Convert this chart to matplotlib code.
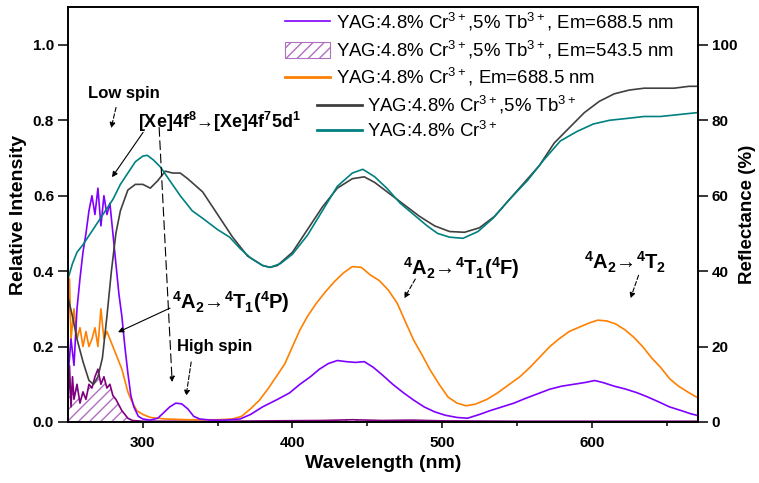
import matplotlib
matplotlib.use('Agg')
import matplotlib.pyplot as plt
from matplotlib.patches import Patch
from matplotlib.lines import Line2D

plt.rcParams['font.family'] = ['Liberation Sans', 'DejaVu Sans']
plt.rcParams['mathtext.fontset'] = 'custom'
plt.rcParams['mathtext.rm'] = 'Liberation Sans'
plt.rcParams['mathtext.it'] = 'Liberation Sans:italic'
plt.rcParams['mathtext.bf'] = 'Liberation Sans:bold'

# excitation, YAG:Cr,Tb  Em=688.5 nm
wl_crtb = [250, 252, 254, 256, 258, 260, 262, 264, 266, 268, 270, 272, 274, 276, 278, 280, 282, 284, 286,
           288, 290, 292, 294, 297, 300, 305, 310, 314, 318, 322, 326, 330, 334, 338, 345, 355, 365, 372,
           380, 390, 398, 405, 412, 418, 424, 430, 436, 442, 448, 454, 460, 467, 474, 481, 488, 495, 502,
           510, 517, 525, 532, 540, 548, 556, 564, 572, 580, 588, 596, 602, 608, 615, 622, 630, 637, 645,
           652, 660, 666, 670]
ex_crtb = [0.12, 0.22, 0.15, 0.30, 0.38, 0.45, 0.50, 0.56, 0.60, 0.55, 0.62, 0.52, 0.60, 0.55, 0.58, 0.50,
           0.42, 0.34, 0.28, 0.20, 0.13, 0.07, 0.04, 0.015, 0.008, 0.005, 0.01, 0.025, 0.04, 0.05, 0.048,
           0.035, 0.015, 0.008, 0.005, 0.005, 0.008, 0.02, 0.04, 0.06, 0.077, 0.10, 0.12, 0.14, 0.155,
           0.163, 0.16, 0.158, 0.16, 0.145, 0.125, 0.10, 0.078, 0.058, 0.04, 0.027, 0.018, 0.012, 0.01,
           0.02, 0.03, 0.04, 0.05, 0.063, 0.075, 0.087, 0.095, 0.10, 0.105, 0.11, 0.104, 0.095, 0.088,
           0.078, 0.067, 0.053, 0.04, 0.03, 0.022, 0.018]

# excitation, YAG:Cr,Tb  Em=543.5 nm
wl_tb = [250, 251, 252, 253, 254, 256, 258, 260, 262, 264, 266, 268, 270, 272, 274, 276, 278, 280, 282,
         284, 286, 288, 290, 293, 300, 350, 420, 440, 460, 480, 500, 550, 600, 670]
ex_tb = [0.05, 0.15, 0.04, 0.12, 0.06, 0.10, 0.05, 0.08, 0.06, 0.10, 0.09, 0.12, 0.14, 0.10, 0.12, 0.09,
         0.10, 0.07, 0.06, 0.045, 0.03, 0.02, 0.01, 0.004, 0.002, 0.002, 0.004, 0.006, 0.004, 0.005,
         0.003, 0.002, 0.002, 0.002]

# excitation, YAG:Cr  Em=688.5 nm
wl_cr = [250, 251, 252, 254, 256, 258, 260, 262, 264, 266, 268, 270, 272, 274, 276, 278, 280, 282, 284,
         286, 288, 290, 292, 294, 296, 300, 305, 315, 330, 350, 360, 366, 372, 378, 384, 390, 395, 400,
         405, 410, 416, 422, 428, 434, 440, 446, 452, 458, 464, 470, 475, 481, 487, 492, 498, 504, 510,
         516, 522, 530, 537, 545, 552, 559, 566, 572, 578, 585, 592, 598, 604, 610, 616, 622, 628, 634,
         640, 646, 652, 658, 664, 670]
ex_cr = [0.25, 0.38, 0.22, 0.30, 0.22, 0.25, 0.20, 0.24, 0.20, 0.22, 0.25, 0.20, 0.30, 0.22, 0.24, 0.22,
         0.20, 0.18, 0.16, 0.14, 0.11, 0.08, 0.06, 0.045, 0.03, 0.02, 0.012, 0.008, 0.006, 0.006, 0.008,
         0.015, 0.035, 0.058, 0.09, 0.125, 0.155, 0.20, 0.244, 0.28, 0.315, 0.345, 0.372, 0.395, 0.412,
         0.41, 0.39, 0.375, 0.35, 0.315, 0.27, 0.217, 0.175, 0.138, 0.10, 0.066, 0.05, 0.043, 0.047, 0.06,
         0.077, 0.10, 0.12, 0.146, 0.175, 0.20, 0.22, 0.24, 0.252, 0.262, 0.27, 0.268, 0.26, 0.245, 0.225,
         0.20, 0.17, 0.145, 0.115, 0.095, 0.08, 0.066]

# reflectance, YAG:Cr,Tb
wl_r_crtb = [250, 253, 256, 260, 264, 267, 270, 273, 276, 279, 282, 285, 290, 295, 300, 305, 310, 315,
             320, 325, 330, 340, 350, 360, 370, 380, 385, 390, 400, 410, 420, 430, 440, 448, 455, 465,
             475, 485, 495, 505, 515, 525, 535, 545, 555, 565, 575, 585, 595, 605, 615, 625, 635, 645,
             655, 665, 670]
r_crtb = [33, 28, 22, 16, 11, 10, 12, 17, 28, 40, 50, 56, 61.5, 63, 63, 62, 64, 66.5, 66, 66, 64.5, 61,
          55, 49, 44, 41.5, 41, 41.5, 45, 51, 57, 62, 64.5, 65, 63.5, 60.5, 57.5, 54.5, 52, 50.5, 50.3,
          51.5, 54.5, 59, 63.5, 68, 74, 78, 82, 85, 87, 88, 88.5, 88.5, 88.5, 89, 89]

# reflectance, YAG:Cr
wl_r_cr = [250, 253, 256, 260, 265, 270, 275, 280, 285, 290, 295, 300, 303, 307, 312, 318, 325, 333,
           340, 350, 358, 365, 372, 380, 385, 392, 400, 410, 420, 430, 440, 447, 455, 463, 472, 481, 490,
           497, 505, 514, 524, 534, 545, 557, 568, 579, 590, 601, 612, 624, 635, 646, 658, 670]
r_cr = [38, 42, 45, 47, 50, 53, 56, 59, 63, 66, 69, 70.5, 70.7, 69.5, 67.5, 64, 60, 56, 54, 51, 49, 46,
        43.5, 41.5, 41, 42, 44.5, 49.5, 56, 62.5, 66, 67, 65, 62, 58, 55, 52, 50, 49, 48.7, 50.5, 54, 59,
        64, 69.5, 74.5, 77, 79, 80, 80.5, 81, 81, 81.5, 82]

lab_crtb_688 = 'YAG:4.8% Cr$^{3+}$,5% Tb$^{3+}$, Em=688.5 nm'
lab_crtb_543 = 'YAG:4.8% Cr$^{3+}$,5% Tb$^{3+}$, Em=543.5 nm'
lab_cr_688 = 'YAG:4.8% Cr$^{3+}$, Em=688.5 nm'
lab_r_crtb = 'YAG:4.8% Cr$^{3+}$,5% Tb$^{3+}$'
lab_r_cr = 'YAG:4.8% Cr$^{3+}$'

c_violet = '#8000ff'
c_orange = '#ff8000'
c_tb = '#800080'
c_hatch = '#b070c0'
c_gray = '#404040'
c_teal = '#008080'

fig = plt.figure(figsize=(7.59, 4.83), dpi=100)
ax = fig.add_axes([0.0896, 0.1263, 0.830, 0.859])
ax2 = ax.twinx()

ax.fill_between(wl_tb, ex_tb, 0, facecolor='none', edgecolor=c_hatch, hatch='///', linewidth=0)
ax.plot(wl_tb, ex_tb, color=c_tb, lw=1.2)
ax.plot(wl_cr, ex_cr, color=c_orange, lw=1.2)
ax.plot(wl_crtb, ex_crtb, color=c_violet, lw=1.2)
ax2.plot(wl_r_crtb, r_crtb, color=c_gray, lw=1.2)
ax2.plot(wl_r_cr, r_cr, color=c_teal, lw=1.2)

ax.set_xlim(250, 671)
ax.set_ylim(0, 1.1)
ax2.set_ylim(0, 110)
ax.set_xticks([300, 400, 500, 600])
ax.set_xticks([350, 450, 550, 650], minor=True)
ax.set_yticks([0.0, 0.2, 0.4, 0.6, 0.8, 1.0])
ax.set_yticklabels(['0.0', '0.2', '0.4', '0.6', '0.8', '1.0'])
ax2.set_yticks([0, 20, 40, 60, 80, 100])

ax.tick_params(axis='x', which='major', direction='out', length=4, width=1.1, labelsize=11, pad=6)
ax.tick_params(axis='x', which='minor', direction='out', length=3, width=1.1)
ax.tick_params(axis='y', direction='out', length=7, width=1.1, labelsize=11, pad=3)
ax2.tick_params(axis='y', direction='out', length=7, width=1.1, labelsize=11, pad=3)
for a in (ax, ax2):
    for lbl in a.get_xticklabels() + a.get_yticklabels():
        lbl.set_fontweight('bold')
    for s in a.spines.values():
        s.set_linewidth(1.2)

ax.set_xlabel('Wavelength (nm)', fontsize=14, fontweight='bold', labelpad=4)
ax.set_ylabel('Relative Intensity', fontsize=14, fontweight='bold', labelpad=4)
ax2.set_ylabel('Reflectance (%)', fontsize=13.5, fontweight='bold', labelpad=1)

# legends
h1 = [Line2D([], [], color=c_violet, lw=1.2),
      Patch(facecolor='white', edgecolor=c_hatch, hatch='///', lw=0.8),
      Line2D([], [], color=c_orange, lw=2)]
leg1 = ax2.legend(h1, [lab_crtb_688, lab_crtb_543, lab_cr_688], loc='upper left',
                  bbox_to_anchor=(285 / 759, 1 - 11 / 483), bbox_transform=fig.transFigure,
                  frameon=False, fontsize=13.4, handlelength=2.4, handletextpad=0.35,
                  labelspacing=0.3, borderpad=0, borderaxespad=0, handleheight=1.0)
ax2.add_artist(leg1)
h2 = [Line2D([], [], color=c_gray, lw=2), Line2D([], [], color=c_teal, lw=2)]
ax2.legend(h2, [lab_r_crtb, lab_r_cr], loc='upper left',
           bbox_to_anchor=(317 / 759, 1 - 94 / 483), bbox_transform=fig.transFigure,
           frameon=False, fontsize=13.4, handlelength=2.4, handletextpad=0.3,
           labelspacing=0.25, borderpad=0, borderaxespad=0)

# annotations (in reflectance coordinates)
bf = dict(fontweight='bold', va='center')
ax2.text(287.5, 87.2, 'Low spin', fontsize=12, ha='center', **bf)
ax2.text(296.8, 79.5, r'[Xe]4f$^{\mathbf{8}}$→[Xe]4f$^{\mathbf{7}}$5d$^{\mathbf{1}}$', fontsize=13, ha='left', **bf)
ax2.text(319.6, 31.8, r'$^{\mathbf{4}}$A$_{\mathbf{2}}$→$^{\mathbf{4}}$T$_{\mathbf{1}}$($^{\mathbf{4}}$P)', fontsize=14.5, ha='left', **bf)
ax2.text(322.9, 19.9, 'High spin', fontsize=12, ha='left', **bf)
ax2.text(474.1, 40.8, r'$^{\mathbf{4}}$A$_{\mathbf{2}}$→$^{\mathbf{4}}$T$_{\mathbf{1}}$($^{\mathbf{4}}$F)', fontsize=14.5, ha='left', **bf)
ax2.text(594.5, 42.4, r'$^{\mathbf{4}}$A$_{\mathbf{2}}$→$^{\mathbf{4}}$T$_{\mathbf{2}}$', fontsize=14.5, ha='left', **bf)

dash = dict(arrowstyle='-|>', color='black', lw=0.8, linestyle=(0, (4, 2)), mutation_scale=8, shrinkA=0, shrinkB=0)
solid = dict(arrowstyle='-|>', color='black', lw=0.8, mutation_scale=8, shrinkA=0, shrinkB=0)
ax2.annotate('', xy=(278.8, 77.9), xytext=(282.1, 83.4), arrowprops=dash)
ax2.annotate('', xy=(279.4, 64.9), xytext=(300.2, 76.8), arrowprops=solid)
ax2.annotate('', xy=(319.6, 10.6), xytext=(310.9, 78.1), arrowprops=dict(dash, linestyle=(0, (8, 4))))
ax2.annotate('', xy=(283.4, 23.8), xytext=(318.2, 30.2), arrowprops=solid)
ax2.annotate('', xy=(328.9, 6.9), xytext=(332.3, 15.9), arrowprops=dash)
ax2.annotate('', xy=(474.7, 32.8), xytext=(482.1, 37.9), arrowprops=dash)
ax2.annotate('', xy=(625.9, 32.8), xytext=(631.3, 38.9), arrowprops=dash)

fig.savefig('out.png', dpi=100)
